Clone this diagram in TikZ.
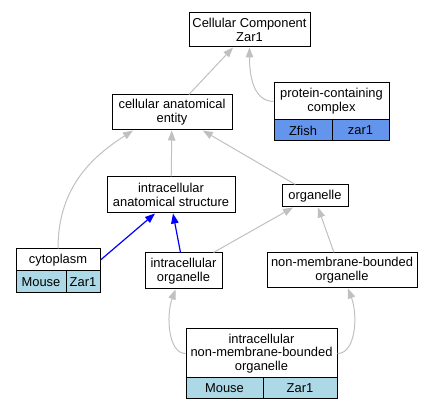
\documentclass[tikz,border=0pt]{standalone}
\usepackage{fontspec}
\setmainfont{Liberation Sans}
\usetikzlibrary{arrows.meta}
\definecolor{edgegray}{RGB}{192,192,192}
\definecolor{pcblue}{RGB}{100,149,237}
\definecolor{lblue}{RGB}{173,216,230}
\tikzset{
  box/.style={draw=black, line width=1pt, fill=white, inner sep=0pt, align=center,
    font=\fontsize{12.9}{13.8}\selectfont},
  isa/.style={draw=edgegray, line width=1pt, -{Triangle[length=10pt,width=7.5pt]}},
  partof/.style={draw=blue, line width=1.2pt, -{Triangle[length=10pt,width=7.5pt]}},
}
\begin{document}
\begin{tikzpicture}[x=1pt,y=-1pt]
\useasboundingbox (0,0) rectangle (432,411);
% nodes
\node[box, minimum width=121pt, minimum height=34pt] (cc) at (249.5,30) {Cellular Component\\Zar1};
\node[box, minimum width=120pt, minimum height=35pt] (cae) at (172,112.5) {cellular anatomical\\entity};
\node[box, minimum width=115pt, minimum height=37pt] (pc) at (331.5,101.5) {protein-containing\\complex};
\node[box, fill=pcblue, minimum width=58pt, minimum height=21pt] (pca) at (303,130.5) {Zfish};
\node[box, fill=pcblue, minimum width=57pt, minimum height=21pt] (pcb) at (360.5,130.5) {zar1};
\node[box, minimum width=128pt, minimum height=36pt] (ias) at (171,195) {intracellular\\anatomical structure};
\node[box, minimum width=66pt, minimum height=22pt] (org) at (315,196) {organelle};
\node[box, minimum width=84pt, minimum height=22pt] (cyto) at (58,260) {cytoplasm};
\node[box, fill=lblue, minimum width=50pt, minimum height=22pt] (cytoa) at (41,282) {Mouse};
\node[box, fill=lblue, minimum width=34pt, minimum height=22pt] (cytob) at (83,282) {Zar1};
\node[box, minimum width=77pt, minimum height=36pt] (io) at (183.5,271) {intracellular\\organelle};
\node[box, minimum width=150pt, minimum height=35pt] (nmbo) at (342,270.5) {non-membrane-bounded\\organelle};
\node[box, minimum width=151pt, minimum height=49pt] (inm) at (261.5,353.5) {intracellular\\non-membrane-bounded\\organelle};
\node[box, fill=lblue, minimum width=77pt, minimum height=21pt] (inma) at (224.5,388.5) {Mouse};
\node[box, fill=lblue, minimum width=74pt, minimum height=21pt] (inmb) at (300,388.5) {Zar1};
% edges
\draw[isa] (cae) -- (cc);
\draw[isa] (pc.west) .. controls (255,101) and (249.5,80) .. (cc.south);
\draw[isa] (ias) -- (cae);
\draw[isa] (org) -- (cae);
\draw[isa] (cyto.north) .. controls (58,185) and (95,155) .. ([xshift=-39pt]cae.south);
\draw[partof] (cyto.east) -- ([xshift=-16pt]ias.south);
\draw[partof] ([xshift=-3pt]io.north) -- ([xshift=2pt]ias.south);
\draw[isa] ([xshift=-9pt]io.north east) -- ([xshift=-22pt]org.south);
\draw[isa] ([xshift=-8pt]nmbo.north) -- ([xshift=3pt]org.south);
\draw[isa] (inm.west) .. controls (168,353.5) and (166,315) .. ([xshift=-8pt]io.south);
\draw[isa] (inm.east) .. controls (356,353.5) and (358,315) .. ([xshift=6pt]nmbo.south);
\end{tikzpicture}
\end{document}
